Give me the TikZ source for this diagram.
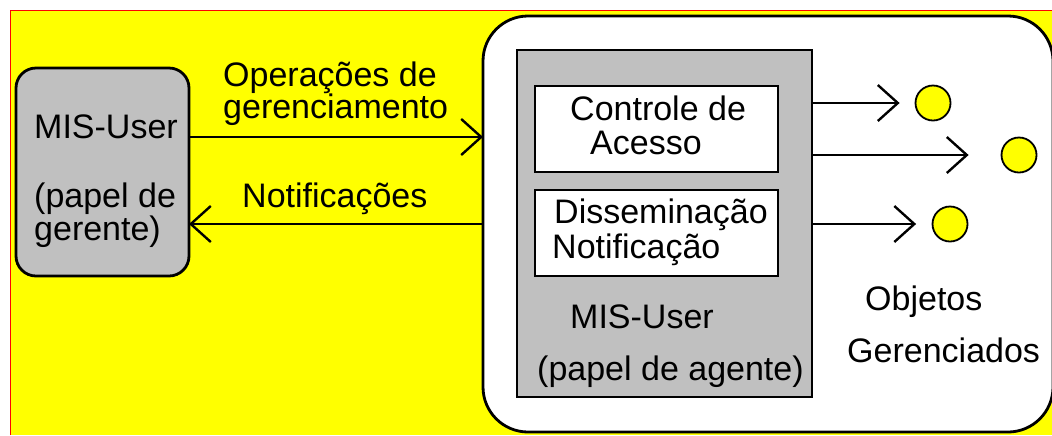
\documentclass[tikz,border=0pt]{standalone}
\usepackage{fontspec}
\setmainfont{Liberation Sans}
\usepackage{pgf,tikz}
\usetikzlibrary{arrows.meta}
\definecolor{grau}{RGB}{192,192,192}
\definecolor{gelb}{RGB}{255,255,0}
\definecolor{rot}{RGB}{255,0,0}

\begin{document}
\begin{tikzpicture}[>={Straight Barb[length=10pt,width=18pt]},x=0.5pt,y=-0.5pt,line width=1.2pt,
		box/.style={draw,line width=1.4pt,inner sep=0pt,outer sep=0pt},
		lbl/.style={anchor=base west,inner sep=0pt,font=\fontsize{17}{20}\selectfont},
		obj/.style={circle,draw,fill=gelb,line width=0.9pt,minimum size=17.5pt,inner sep=0pt}]
				\useasboundingbox (0,0) rectangle (1052,435);
				
				%Hintergrund
				\fill[gelb] (10,10) rectangle (1052,435);
				\draw[rot,line width=0.5pt] (10,435) -- (10,10) -- (1052,10);
				
				%Kaesten zeichnen
				\node[box,rounded corners=10pt,fill=grau,minimum width=86.5pt,minimum height=104pt] (gerente) at (102.5,172) {};
				\node[box,rounded corners=22.5pt,fill=white,minimum width=285pt,minimum height=208pt] (sistema) at (768,224) {};
				\node[box,fill=grau,minimum width=147.5pt,minimum height=173.5pt] (agente) at (664.5,223.5) {};
				\node[box,fill=white,minimum width=121.5pt,minimum height=43pt] (controle) at (656.5,129) {};
				\node[box,fill=white,minimum width=121.5pt,minimum height=43pt] (dissem) at (656.5,233) {};
				
				%Objekte zeichnen
				\node[obj] (obj1) at (933,103) {};
				\node[obj] (obj2) at (1019,155) {};
				\node[obj] (obj3) at (950,224) {};
				
				%Pfeile zeichnen
				\draw[->] (gerente.east |- 0,137) -- (sistema.west |- 0,137);
				\draw[<-] (gerente.east |- 0,224) -- (sistema.west |- 0,224);
				\draw[->,shorten >=7.5pt] (agente.east |- obj1) -- (obj1);
				\draw[->,shorten >=16pt] (agente.east |- obj2) -- (obj2);
				\draw[->,shorten >=7.75pt] (agente.east |- obj3) -- (obj3);
				
				%Beschriftung
				\foreach \x/\y/\t [count=\i] in
					{222/86/{Operações de},222/118/{gerenciamento},241/207/{Notificações},
					 33/138/{MIS-User},33/207/{(papel de},33/240/{gerente)},
					 569/120/{Controle de},589/154/{Acesso},553/223/{Disseminação},551/258/{Notificação},
					 569/328/{MIS-User},536/380/{(papel de agente)},864/310/{Objetos},846/362/{Gerenciados}}
						\node[lbl] (lbl\i) at (\x,\y) {\t};
	\end{tikzpicture}
\end{document}
